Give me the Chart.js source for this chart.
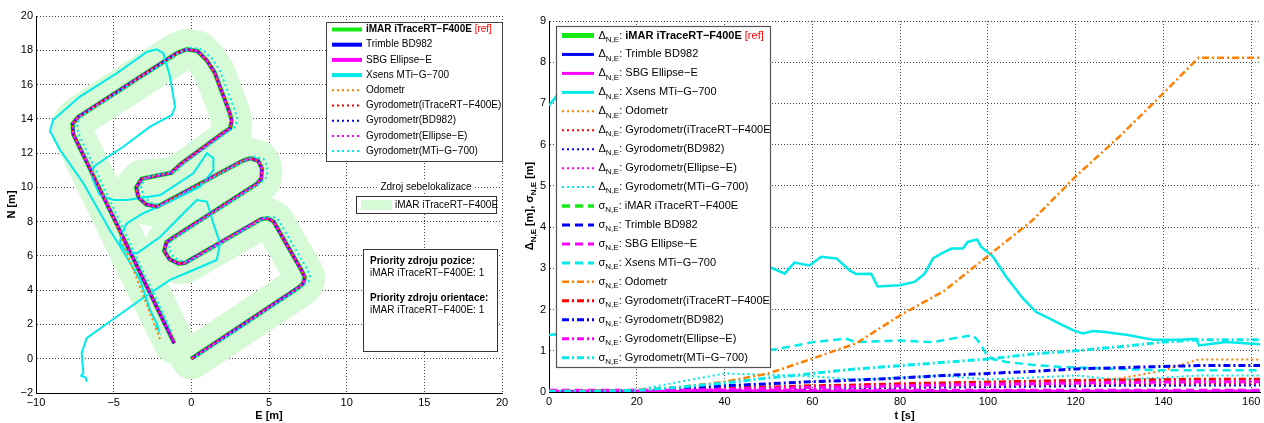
<!DOCTYPE html>
<html>
<head>
<meta charset="utf-8">
<script src="https://cdn.jsdelivr.net/npm/chart.js@4.4.0/dist/chart.umd.min.js"></script>
<style>
html, body { margin: 0; padding: 0; background: #fff; }
#wrap { position: relative; width: 1264px; height: 423px; }
#c1 { position: absolute; left: 0; top: 0; }
#c2 { position: absolute; left: 520px; top: 0; }
</style>
</head>
<body>
<div id="wrap">
  <canvas id="c1" width="520" height="423"></canvas>
  <canvas id="c2" width="744" height="423"></canvas>
</div>
<script>
// ---------- left panel data: trajectories E/N [m] ----------
const mainE = [0.0, 6.9, 7.2, 7.3, 7.1, 5.3, 4.9, 4.5, -0.4, -0.8, -1.4, -1.75, -1.6, -1.2, 4.2, 4.5, 4.55, 4.3, 3.8, 3.3,
  -2.2, -2.9, -3.4, -3.55, -3.2, -1.3, -0.7, 2.0, 2.5, 2.6, 2.45, 1.5, 1.0, 0.4, -0.3, -0.9, -7.3, -7.65, -7.6, -1.1];
const mainN = [0.0, 4.15, 4.4, 4.75, 5.15, 8.0, 8.2, 8.15, 5.6, 5.55, 5.8, 6.3, 6.8, 7.05, 10.2, 10.5, 11.1, 11.55, 11.7, 11.55,
  8.87, 9.0, 9.4, 10.0, 10.5, 10.85, 11.35, 13.15, 13.45, 13.9, 14.4, 16.7, 17.4, 17.95, 18.06, 17.85, 14.1, 13.7, 13.1, 0.9];

// centre line of the pale self-localisation region
const bandE = [0.0, 6.9, 7.2, 7.3, 7.1, 5.3, 4.9, 4.5, -0.4, -0.8, -1.4, -1.75, -1.6, -1.2, 4.2, 4.5, 4.55, 4.3, 3.8, 3.3,
  -2.2, -2.9, -3.4, -3.55, -3.2, -1.3, -0.5, 2.0, 2.55, 2.6, 2.45, 1.5, 1.0, 0.4, -0.3, -0.9, -7.3, -7.65, -7.6, -1.1];
const bandN = [0.0, 4.15, 4.4, 4.75, 5.15, 8.0, 8.2, 8.15, 5.6, 5.55, 5.8, 6.3, 6.8, 7.05, 10.2, 10.5, 11.1, 11.55, 11.7, 11.55,
  8.87, 9.0, 9.4, 10.0, 10.4, 10.55, 10.9, 12.5, 13.1, 13.9, 14.4, 16.7, 17.4, 17.95, 18.06, 17.85, 14.1, 13.7, 13.1, 0.9];

const odoE = [0.0, 6.9, 7.2, 7.3, 7.1, 5.3, 4.9, 4.5, -0.4, -0.8, -1.4, -1.75, -1.6, -1.2, 4.2, 4.5, 4.55, 4.3, 3.8, 3.3,
  -2.2, -2.9, -3.4, -3.55, -3.2, -1.3, -0.7, 2.0, 2.5, 2.6, 2.45, 1.5, 1.0, 0.4, -0.3, -0.9, -7.3, -7.65, -7.6, -5.3, -2.0];
const odoN = [0.0, 4.15, 4.4, 4.75, 5.15, 8.0, 8.2, 8.15, 5.6, 5.55, 5.8, 6.3, 6.8, 7.05, 10.2, 10.5, 11.1, 11.55, 11.7, 11.55,
  8.87, 9.0, 9.4, 10.0, 10.5, 10.85, 11.35, 13.15, 13.45, 13.9, 14.4, 16.7, 17.4, 17.95, 18.06, 17.85, 14.1, 13.7, 13.1, 8.9, 1.1];

const gyroMtiE = [0.3, 7.2, 7.55, 7.65, 7.45, 5.6, 5.2, 4.8, -0.1, -0.5, -1.1, -1.45, -1.3, -0.9, 4.5, 4.85, 4.9, 4.65, 4.1, 3.6,
  -1.9, -2.6, -3.1, -3.25, -2.9, -1.0, -0.4, 2.35, 2.85, 2.95, 2.8, 1.85, 1.35, 0.7, 0.0, -0.6, -7.0, -7.35, -7.3, -1.25];
const gyroMtiN = [0.1, 4.25, 4.5, 4.85, 5.25, 8.1, 8.3, 8.25, 5.7, 5.65, 5.9, 6.4, 6.9, 7.15, 10.3, 10.6, 11.2, 11.65, 11.8, 11.65,
  8.97, 9.1, 9.5, 10.1, 10.6, 10.95, 11.45, 13.25, 13.55, 14.0, 14.5, 16.8, 17.5, 18.05, 18.16, 17.95, 14.2, 13.8, 13.2, 1.55];

const xsE = [-2.3, -2.12, -2.2, -2.66, -3.3, -4.2, -5.24, -6.95, -8.45, -9.1, -8.9, -7.17, -4.8, -2.87, -2.23, -1.8, -1.37, -1.05,
  -1.26, -2.66, -4.38, -5.5, -6.3, -6.4, -5.9, -5.0, -4.16, -2.0, 0.13, 1.0, 1.42, 1.42, 0.56, -1.37, -3.09, -4.16, -4.48, -4.6,
  -4.16, -3.5, -2.0, -0.3, 0.35, 1.0, 1.42, 1.85, 1.63, 0.13, -1.37, -3.3, -5.24, -6.74, -7.06, -6.95, -7.1, -6.8, -6.73];
const xsN = [1.95, 1.68, 2.0, 2.85, 4.6, 6.0, 7.5, 10.24, 12.18, 13.3, 13.93, 15.3, 16.66, 17.9, 18.06, 17.82, 16.46, 14.7,
  14.22, 13.54, 12.37, 11.7, 11.2, 10.6, 9.55, 9.26, 9.26, 9.55, 10.82, 12.0, 11.7, 11.0, 10.04, 9.17, 8.49, 7.9, 7.32, 6.74,
  6.25, 6.15, 7.12, 8.68, 9.26, 9.17, 7.9, 6.74, 5.76, 5.18, 4.6, 3.43, 2.17, 1.2, 0.32, -0.85, -1.0, -1.1, -1.34];

const leftNames = ['iMAR iTraceRT\u2212F400E', 'Trimble BD982', 'SBG Ellipse\u2212E', 'Xsens MTi\u2212G\u2212700', 'Odometr',
  'Gyrodometr(iTraceRT\u2212F400E)', 'Gyrodometr(BD982)', 'Gyrodometr(Ellipse\u2212E)', 'Gyrodometr(MTi\u2212G\u2212700)'];

// ---------- right panel data: errors over time ----------
const tGrid = [0, 10, 20, 30, 40, 50, 60, 70, 80, 90, 100, 110, 120, 130, 140, 148, 155, 162];
const dImar     = [0, 0, 0, 0, 0, 0, 0, 0, 0, 0, 0, 0, 0, 0, 0, 0, 0, 0];
const dTrimble  = [0.01, 0.01, 0.01, 0.01, 0.01, 0.01, 0.01, 0.02, 0.01, 0.01, 0.02, 0.01, 0.01, 0.02, 0.01, 0.01, 0.01, 0.01];
const dSbg      = [0.02, 0.03, 0.03, 0.02, 0.03, 0.03, 0.02, 0.03, 0.03, 0.02, 0.03, 0.03, 0.02, 0.03, 0.03, 0.02, 0.03, 0.03];
const dOdo      = [0.0, 0.01, 0.02, 0.03, 0.05, 0.07, 0.08, 0.1, 0.12, 0.14, 0.15, 0.18, 0.25, 0.33, 0.52, 0.79, 0.79, 0.79];
const dGyroImar = [0.0, 0.01, 0.02, 0.04, 0.06, 0.08, 0.1, 0.11, 0.12, 0.14, 0.15, 0.16, 0.17, 0.18, 0.19, 0.2, 0.2, 0.2];
const dGyroBd   = [0.0, 0.01, 0.02, 0.04, 0.05, 0.07, 0.08, 0.09, 0.1, 0.11, 0.12, 0.13, 0.14, 0.15, 0.15, 0.16, 0.16, 0.16];
const dGyroEll  = [0.0, 0.01, 0.02, 0.05, 0.07, 0.09, 0.11, 0.12, 0.13, 0.15, 0.16, 0.18, 0.2, 0.22, 0.24, 0.25, 0.25, 0.25];
const dGyroMti  = [0.02, 0.02, 0.05, 0.25, 0.45, 0.42, 0.38, 0.3, 0.35, 0.4, 0.3, 0.35, 0.4, 0.3, 0.35, 0.4, 0.4, 0.4];

const tXs = [0, 1.5, 5, 10, 20, 30, 40, 48, 50.3, 53.7, 55.9, 59.4, 62, 65.5, 68.5, 70, 73.4, 74.9, 79.9, 83.3, 85.6, 87.5,
  89.4, 91.7, 94.3, 95.4, 97.5, 98.5, 101.1, 104.2, 108, 111, 114.1, 116.3, 119.4, 121.6, 123.9, 126.2, 129.2, 131.5,
  137.6, 143.7, 147.5, 148.1, 154.3, 162];
const dXsens = [6.95, 7.15, 6.3, 5.4, 4.3, 3.7, 3.3, 3.05, 3.03, 2.87, 3.14, 3.07, 3.28, 3.24, 2.95, 2.86, 2.87, 2.56, 2.59,
  2.67, 2.87, 3.24, 3.36, 3.48, 3.48, 3.64, 3.7, 3.52, 3.29, 2.79, 2.27, 1.94, 1.78, 1.66, 1.5, 1.42, 1.48, 1.46, 1.42, 1.39,
  1.27, 1.27, 1.29, 1.13, 1.21, 1.16];

const sImar     = [0.01, 0.01, 0.01, 0.01, 0.01, 0.01, 0.01, 0.01, 0.01, 0.01, 0.01, 0.01, 0.01, 0.01, 0.01, 0.01, 0.01, 0.01];
const sTrimble  = [0.02, 0.02, 0.02, 0.02, 0.02, 0.02, 0.02, 0.02, 0.02, 0.02, 0.02, 0.02, 0.02, 0.02, 0.02, 0.02, 0.02, 0.02];
const sSbg      = [0.04, 0.04, 0.04, 0.04, 0.04, 0.04, 0.04, 0.04, 0.04, 0.04, 0.04, 0.04, 0.04, 0.04, 0.04, 0.04, 0.04, 0.04];
const tXsSig = [0, 1.5, 10, 20, 30, 40, 47.9, 55, 60.1, 67.7, 70, 79.9, 87.6, 92, 96.6, 97.7, 99.6, 101, 104.2, 110, 116.3, 130, 139, 162];
const sXsens = [1.38, 1.4, 1.3, 1.2, 1.1, 1.0, 0.97, 1.1, 1.21, 1.29, 1.21, 1.25, 1.21, 1.3, 1.38, 1.25, 0.93, 0.8, 0.73, 0.66, 0.61, 0.56, 0.53, 0.53];
const sOdo      = [0.02, 0.03, 0.05, 0.12, 0.25, 0.45, 0.81, 1.18, 1.86, 2.45, 3.3, 4.15, 5.23, 6.2, 7.25, 8.11, 8.11, 8.11];
const sGyroImar = [0.01, 0.01, 0.02, 0.05, 0.09, 0.12, 0.15, 0.17, 0.2, 0.22, 0.24, 0.26, 0.28, 0.29, 0.3, 0.31, 0.31, 0.31];
const sGyroBd   = [0.01, 0.01, 0.03, 0.08, 0.15, 0.2, 0.25, 0.29, 0.34, 0.4, 0.45, 0.5, 0.56, 0.59, 0.62, 0.64, 0.64, 0.64];
const sGyroEll  = [0.01, 0.01, 0.02, 0.04, 0.07, 0.09, 0.11, 0.13, 0.15, 0.17, 0.19, 0.2, 0.22, 0.23, 0.24, 0.25, 0.25, 0.25];
const sGyroMti  = [0.02, 0.02, 0.04, 0.12, 0.22, 0.34, 0.45, 0.56, 0.64, 0.72, 0.8, 0.92, 1.0, 1.1, 1.21, 1.27, 1.27, 1.27];

// ---------- styling ----------
const FONT = "'Liberation Sans', Arial, Helvetica, sans-serif";
Chart.defaults.font.family = FONT;
Chart.defaults.font.size = 11;
Chart.defaults.color = '#000';

const GREEN = '#14ea14', BLUE = '#0000ff', MAGENTA = '#ff00ff', CYAN = '#00eaea', ORANGE = '#ff8000', RED = '#ff0000';
const BAND = 'rgb(213,250,213)';
const DOT = [2, 3], DASH = [8, 5], DASHDOT = [7, 3, 2, 3];

const minus = v => String(v).replace('-', '\u2212');
function pts(xs, ys) { return xs.map((x, i) => ({ x: x, y: ys[i] })); }

function sample(ctx, x1, x2, y, color, width, dash) {
  ctx.save();
  ctx.strokeStyle = color;
  ctx.lineWidth = width;
  ctx.setLineDash(dash);
  ctx.beginPath();
  ctx.moveTo(x1, y);
  ctx.lineTo(x2, y);
  ctx.stroke();
  ctx.restore();
}

function axis(min, max, step, title, size, titlePad) {
  return {
    type: 'linear', min: min, max: max,
    ticks: { stepSize: step, autoSkip: false, maxRotation: 0, includeBounds: false, padding: 3, callback: minus },
    grid: { color: '#444', lineWidth: 1, drawTicks: false },
    border: { display: true, color: '#000', width: 1, dash: [1, 2] },
    title: { display: !!title, text: title, font: { weight: 'bold', size: 11 }, padding: titlePad },
    afterFit: size
  };
}

// ---------- left panel ----------
const leftStyles = [
  { color: GREEN, width: 4.5, dash: [], off: 0 },
  { color: BLUE, width: 3, dash: [], off: 0 },
  { color: MAGENTA, width: 2.5, dash: [], off: 0 },
  { color: CYAN, width: 2, dash: [], off: 0 },
  { color: ORANGE, width: 2, dash: DOT, off: 0 },
  { color: RED, width: 2, dash: DOT, off: 1 },
  { color: BLUE, width: 2, dash: DOT, off: 2 },
  { color: MAGENTA, width: 2, dash: DOT, off: 3 },
  { color: CYAN, width: 2, dash: DOT, off: 0 }
];
const leftSeries = [[mainE, mainN], [mainE, mainN], [mainE, mainN], [xsE, xsN], [odoE, odoN],
  [mainE, mainN], [mainE, mainN], [mainE, mainN], [gyroMtiE, gyroMtiN]];

const leftDatasets = [{
  data: pts(bandE, bandN), borderColor: BAND, borderWidth: 41,
  borderJoinStyle: 'round', borderCapStyle: 'round', order: 50
}];
leftStyles.forEach((s, i) => {
  leftDatasets.push({
    data: pts(leftSeries[i][0], leftSeries[i][1]),
    borderColor: s.color, borderWidth: s.width, borderDash: s.dash, borderDashOffset: s.off,
    order: 20 - i
  });
});

const leftBoxes = {
  id: 'leftBoxes',
  afterDraw(chart) {
    const ctx = chart.ctx;
    ctx.save();
    // main legend
    ctx.fillStyle = '#fff';
    ctx.fillRect(326, 22, 177, 140);
    ctx.strokeStyle = '#444';
    ctx.lineWidth = 1;
    ctx.strokeRect(326.5, 22.5, 176, 139);
    ctx.textBaseline = 'middle';
    leftNames.forEach((name, i) => {
      const y = 29.5 + i * 15.2;
      const s = leftStyles[i];
      sample(ctx, 332, 362, y, s.color, i < 4 ? 4 : 2, s.dash);
      ctx.fillStyle = '#000';
      ctx.font = (i === 0 ? 'bold ' : '') + '10px ' + FONT;
      ctx.fillText(name, 366, y);
      if (i === 0) {
        const w = ctx.measureText(name).width;
        ctx.font = '10px ' + FONT;
        ctx.fillStyle = RED;
        ctx.fillText(' [ref]', 366 + w, y);
      }
    });
    // source legend
    ctx.font = '10px ' + FONT;
    const title = 'Zdroj sebelokalizace';
    const tw = ctx.measureText(title).width;
    ctx.fillStyle = '#fff';
    ctx.fillRect(426 - tw / 2 - 2, 181, tw + 4, 12);
    ctx.fillStyle = '#000';
    ctx.textAlign = 'center';
    ctx.fillText(title, 426, 187);
    ctx.textAlign = 'left';
    ctx.fillStyle = '#fff';
    ctx.fillRect(356, 196, 141, 18);
    ctx.strokeStyle = '#333';
    ctx.strokeRect(356.5, 196.5, 140, 17);
    ctx.fillStyle = BAND;
    ctx.fillRect(361, 200, 31, 10);
    ctx.fillStyle = '#000';
    ctx.fillText(leftNames[0], 395, 205.5);
    // priority box
    ctx.fillStyle = '#fff';
    ctx.fillRect(363, 249, 135, 103);
    ctx.strokeStyle = '#333';
    ctx.strokeRect(363.5, 249.5, 134, 102);
    ctx.fillStyle = '#000';
    ctx.font = 'bold 10px ' + FONT;
    ctx.fillText('Priority zdroju pozice:', 370, 261);
    ctx.fillText('Priority zdroju orientace:', 370, 298.5);
    ctx.font = '10px ' + FONT;
    ctx.fillText(leftNames[0] + ': 1', 370, 273.5);
    ctx.fillText(leftNames[0] + ': 1', 370, 310.5);
    ctx.restore();
  }
};

new Chart(document.getElementById('c1'), {
  type: 'scatter',
  data: { datasets: leftDatasets },
  options: {
    responsive: false, devicePixelRatio: 1, animation: false,
    showLine: true,
    elements: { point: { radius: 0 }, line: { tension: 0, fill: false } },
    layout: { padding: { top: 16, right: 18, left: 0, bottom: 0 } },
    plugins: { legend: { display: false }, tooltip: { enabled: false } },
    scales: {
      x: axis(-10, 20, 5, 'E [m]', s => { s.height = 30; }, 0),
      y: axis(-2, 20, 2, 'N [m]', s => { s.width = 36; }, { top: 5, bottom: 0 })
    }
  },
  plugins: [leftBoxes]
});

// ---------- right panel ----------
const rightNames = leftNames.concat(leftNames);
const rightSyms = ['\u0394', '\u0394', '\u0394', '\u0394', '\u0394', '\u0394', '\u0394', '\u0394', '\u0394',
  '\u03c3', '\u03c3', '\u03c3', '\u03c3', '\u03c3', '\u03c3', '\u03c3', '\u03c3', '\u03c3'];
const rightSeries = [[tGrid, dImar], [tGrid, dTrimble], [tGrid, dSbg], [tXs, dXsens], [tGrid, dOdo],
  [tGrid, dGyroImar], [tGrid, dGyroBd], [tGrid, dGyroEll], [tGrid, dGyroMti],
  [tGrid, sImar], [tGrid, sTrimble], [tGrid, sSbg], [tXsSig, sXsens], [tGrid, sOdo],
  [tGrid, sGyroImar], [tGrid, sGyroBd], [tGrid, sGyroEll], [tGrid, sGyroMti]];
const rightStyles = [
  { color: GREEN, width: 3, dash: [], lw: 5 },
  { color: BLUE, width: 2.5, dash: [], lw: 3 },
  { color: MAGENTA, width: 2.5, dash: [], lw: 3 },
  { color: CYAN, width: 2.5, dash: [], lw: 3 },
  { color: ORANGE, width: 2, dash: DOT, lw: 2 },
  { color: RED, width: 2, dash: DOT, lw: 2 },
  { color: BLUE, width: 2, dash: DOT, lw: 2 },
  { color: MAGENTA, width: 2, dash: DOT, lw: 2 },
  { color: CYAN, width: 2, dash: DOT, lw: 2 },
  { color: GREEN, width: 3.5, dash: DASH, lw: 3.5 },
  { color: BLUE, width: 3, dash: DASH, lw: 3 },
  { color: MAGENTA, width: 3, dash: DASH, lw: 3 },
  { color: CYAN, width: 2.5, dash: DASH, lw: 3 },
  { color: ORANGE, width: 2.5, dash: DASHDOT, lw: 2.5 },
  { color: RED, width: 3, dash: DASHDOT, lw: 3 },
  { color: BLUE, width: 3, dash: DASHDOT, lw: 3 },
  { color: MAGENTA, width: 3, dash: DASHDOT, lw: 3 },
  { color: CYAN, width: 3, dash: DASHDOT, lw: 3 }
];

const rightDatasets = rightStyles.map((s, i) => ({
  data: pts(rightSeries[i][0], rightSeries[i][1]),
  borderColor: s.color, borderWidth: s.width, borderDash: s.dash,
  order: 40 - i
}));

function symText(ctx, x, y, sym, size, subSize) {
  ctx.fillText(sym, x, y);
  let w = ctx.measureText(sym).width;
  const f = ctx.font;
  ctx.font = ctx.font.replace(size + 'px', subSize + 'px');
  ctx.fillText('N,E', x + w, y + 4);
  w += ctx.measureText('N,E').width;
  ctx.font = f;
  return w;
}

const rightBoxes = {
  id: 'rightBoxes',
  afterDraw(chart) {
    const ctx = chart.ctx;
    ctx.save();
    // legend
    ctx.fillStyle = '#fff';
    ctx.fillRect(36, 26, 215, 342);
    ctx.strokeStyle = '#555';
    ctx.lineWidth = 1.2;
    ctx.strokeRect(36.5, 26.5, 214, 341);
    ctx.beginPath();
    ctx.rect(37, 27, 213, 340);
    ctx.clip();
    ctx.textBaseline = 'middle';
    rightNames.forEach((name, i) => {
      const y = 35.5 + i * 18.95;
      const s = rightStyles[i];
      sample(ctx, 42, 74, y, s.color, s.lw, s.dash);
      ctx.fillStyle = '#000';
      ctx.font = '11px ' + FONT;
      let x = 78.5;
      x += symText(ctx, x, y, rightSyms[i], 11, 8);
      ctx.fillText(': ', x, y);
      x += ctx.measureText(': ').width;
      ctx.font = (i === 0 ? 'bold ' : '') + '11px ' + FONT;
      ctx.fillText(name, x, y);
      if (i === 0) {
        const w = ctx.measureText(name).width;
        ctx.font = '11px ' + FONT;
        ctx.fillStyle = RED;
        ctx.fillText(' [ref]', x + w, y);
      }
    });
    ctx.restore();
    // y axis title
    ctx.save();
    ctx.translate(10, 206);
    ctx.rotate(-Math.PI / 2);
    ctx.textBaseline = 'middle';
    ctx.fillStyle = '#000';
    const parts = ['\u0394', ' [m], ', '\u03c3', ' [m]'];
    ctx.font = 'bold 8px ' + FONT;
    const subW = ctx.measureText('N,E').width;
    ctx.font = 'bold 11px ' + FONT;
    const total = parts.reduce((a, p) => a + ctx.measureText(p).width, 0) + 2 * subW;
    let x = -total / 2;
    parts.forEach((p, i) => {
      ctx.font = 'bold 11px ' + FONT;
      ctx.fillText(p, x, 0);
      x += ctx.measureText(p).width;
      if (i === 0 || i === 2) {
        ctx.font = 'bold 8px ' + FONT;
        ctx.fillText('N,E', x, 4);
        x += subW;
      }
    });
    ctx.restore();
  }
};

new Chart(document.getElementById('c2'), {
  type: 'scatter',
  data: { datasets: rightDatasets },
  options: {
    responsive: false, devicePixelRatio: 1, animation: false,
    showLine: true,
    elements: { point: { radius: 0 }, line: { tension: 0, fill: false } },
    layout: { padding: { top: 21, right: 4, left: 0, bottom: 0 } },
    plugins: { legend: { display: false }, tooltip: { enabled: false } },
    scales: {
      x: axis(0, 162, 20, 't [s]', s => { s.height = 31; }, 0),
      y: axis(0, 9, 1, '', s => { s.width = 29; }, 0)
    }
  },
  plugins: [rightBoxes]
});
</script>
</body>
</html>
